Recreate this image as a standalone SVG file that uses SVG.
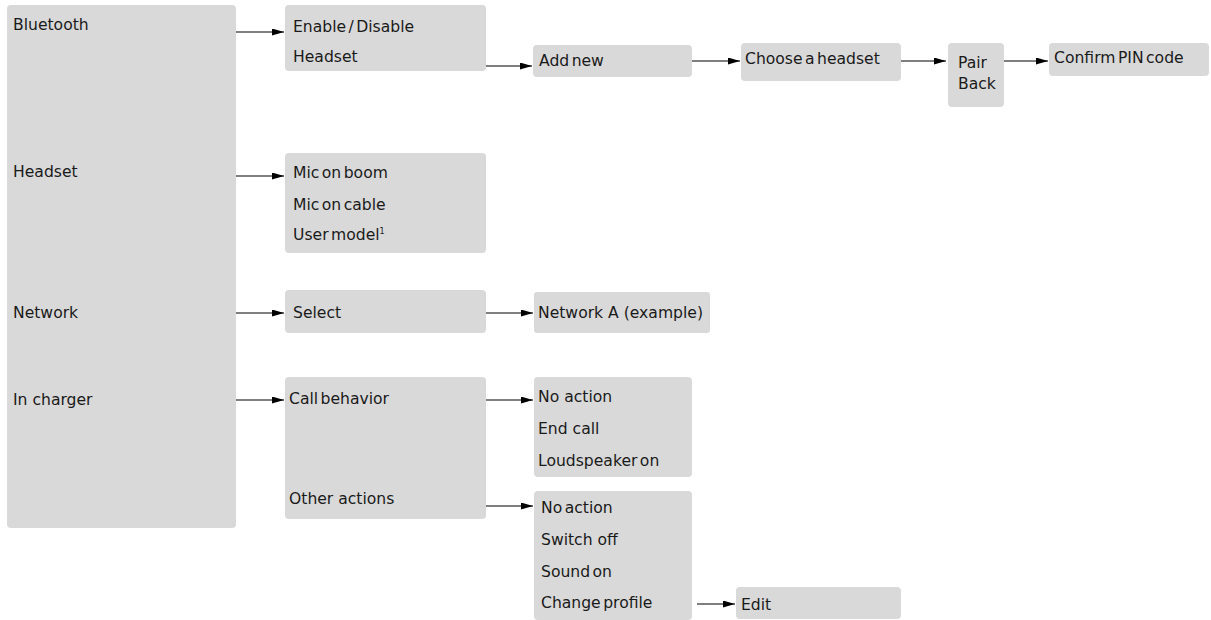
<svg xmlns="http://www.w3.org/2000/svg" width="1211" height="620" viewBox="0 0 1211 620">
<style>
.b{fill:#d9d9d9;}
text{font-family:"DejaVu Sans","Liberation Sans",sans-serif;font-size:15.6px;fill:#1a1a1a;}
.c{stroke:#000;stroke-width:1.2;fill:none;marker-end:url(#ah);}
.t{word-spacing:-2.5px;}
</style>
<defs>
<marker id="ah" viewBox="0 0 12 8" refX="12" refY="4" markerWidth="12" markerHeight="7" markerUnits="userSpaceOnUse" orient="auto" preserveAspectRatio="none">
<path d="M0,0 L12,4 L0,8 z" fill="#000"/>
</marker>
</defs>
<rect width="1211" height="620" fill="#fff"/>
<g id="n-root"><rect class="b" x="7" y="5" width="229" height="523" rx="4"/>
<text x="13" y="30">Bluetooth</text>
<text x="13" y="177">Headset</text>
<text x="13" y="318">Network</text>
<text x="13" y="405">In charger</text></g>
<g id="n-bt"><rect class="b" x="285" y="5" width="201" height="66" rx="4"/>
<text x="293" y="32" class="t">Enable / Disable</text>
<text x="293" y="62">Headset</text></g>
<g id="n-add"><rect class="b" x="533" y="45" width="159" height="32" rx="4"/>
<text x="539" y="66" class="t">Add new</text></g>
<g id="n-choose"><rect class="b" x="741" y="43" width="160" height="38" rx="4"/>
<text x="745" y="64" class="t">Choose a headset</text></g>
<g id="n-pair"><rect class="b" x="948" y="43" width="56" height="64" rx="4"/>
<text x="958" y="68">Pair</text>
<text x="958" y="89">Back</text></g>
<g id="n-pin"><rect class="b" x="1049" y="43" width="160" height="33" rx="4"/>
<text x="1054" y="63" class="t">Confirm PIN code</text></g>
<g id="n-mic"><rect class="b" x="285" y="153" width="201" height="100" rx="4"/>
<text x="293" y="178" class="t">Mic on boom</text>
<text x="293" y="210" class="t">Mic on cable</text>
<text x="293" y="240" class="t">User model<tspan font-size="8" dy="-6">1</tspan></text></g>
<g id="n-select"><rect class="b" x="285" y="290" width="201" height="43" rx="4"/>
<text x="293" y="318">Select</text></g>
<g id="n-neta"><rect class="b" x="534" y="292" width="176" height="41" rx="3"/>
<text x="538" y="318">Network A (example)</text></g>
<g id="n-call"><rect class="b" x="285" y="377" width="201" height="142" rx="4"/>
<text x="289" y="404" class="t">Call behavior</text>
<text x="289" y="504">Other actions</text></g>
<g id="n-callopt"><rect class="b" x="534" y="377" width="158" height="100" rx="4"/>
<text x="538" y="402">No action</text>
<text x="538" y="434">End call</text>
<text x="538" y="466" class="t">Loudspeaker on</text></g>
<g id="n-other"><rect class="b" x="534" y="491" width="158" height="129" rx="4"/>
<text x="541" y="513" class="t">No action</text>
<text x="541" y="545">Switch off</text>
<text x="541" y="577" class="t">Sound on</text>
<text x="541" y="608" class="t">Change profile</text></g>
<g id="n-edit"><rect class="b" x="736" y="587" width="165" height="32" rx="4"/>
<text x="741" y="610">Edit</text></g>
<g id="connectors">
<path class="c" d="M236,32 H284"/>
<path class="c" d="M486,66 H532"/>
<path class="c" d="M692,61 H740"/>
<path class="c" d="M901,61 H946"/>
<path class="c" d="M1004,61 H1048"/>
<path class="c" d="M236,176 H284"/>
<path class="c" d="M236,313 H284"/>
<path class="c" d="M486,313 H533"/>
<path class="c" d="M236,400 H284"/>
<path class="c" d="M486,400 H533"/>
<path class="c" d="M486,506 H533"/>
<path class="c" d="M697,604 H735"/>
</g>
</svg>
